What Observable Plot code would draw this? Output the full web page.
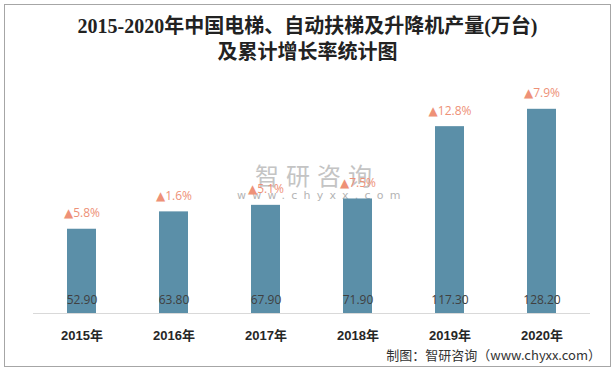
<!DOCTYPE html>
<html><head><meta charset="utf-8">
<script src="https://cdn.jsdelivr.net/npm/d3@7"></script>
<script src="https://cdn.jsdelivr.net/npm/@observablehq/plot@0.6"></script>
<style>
body{margin:0;background:#fff;}
#wrap{position:relative;width:615px;height:370px;overflow:hidden;background:#fff;}
#frame{position:absolute;left:4px;top:4px;width:605px;height:361px;border:1px solid #a6a6a6;}
#title{position:absolute;left:0;top:13px;width:615px;text-align:center;font-family:"Liberation Serif","Noto Sans CJK SC",serif;font-weight:bold;font-size:20px;line-height:26px;color:#222;}
#wm{position:absolute;left:237px;top:160px;color:#c4c4c4;font-family:"Noto Sans CJK SC",sans-serif;}
#wm .big{font-size:24px;letter-spacing:7px;line-height:30px;padding-left:18px;}
#wm .small{font-size:11px;letter-spacing:6.2px;line-height:12px;color:#b4b4b4;font-family:"DejaVu Sans",sans-serif;}
#chart{position:absolute;left:0;top:60px;}
#caption{position:absolute;right:14px;top:346px;font-family:"Noto Sans CJK SC",sans-serif;font-size:13px;line-height:18px;color:#333;}
</style>
</head><body>
<div id="wrap">
  <div id="frame"></div>
  <div id="title">2015-2020年中国电梯、自动扶梯及升降机产量(万台)<br>及累计增长率统计图</div>
  <div id="wm"><div class="big">智研咨询</div><div class="small">www.chyxx.com</div></div>
  <div id="chart"></div>
  <div id="caption">制图：智研咨询（www.chyxx.com）</div>
</div>
<script>
const years = ["2015年","2016年","2017年","2018年","2019年","2020年"];
const output = [52.9, 63.8, 67.9, 71.9, 117.3, 128.2];
const growth = [5.8, 1.6, 5.1, 7.5, 12.8, 7.9];

const data = years.map((y, i) => ({year: y, value: output[i], growth: growth[i]}));

const chart = Plot.plot({
  width: 615,
  height: 290,
  marginLeft: 33,
  marginRight: 25,
  marginTop: 30,
  marginBottom: 37,
  style: {background: "transparent", overflow: "visible"},
  x: {domain: years, paddingInner: 0.69, paddingOuter: 0.345, axis: null},
  y: {domain: [0, 140], axis: null},
  marks: [
    Plot.barY(data, {x: "year", y: "value", fill: "#5B8FA8"}),
    Plot.ruleY([0], {stroke: "#d9d9d9", strokeWidth: 1}),
    Plot.text(data, {x: "year", y: 0, text: d => d.value.toFixed(2), dy: -13, fill: "#404040", fontSize: 12, fontFamily: "Open Sans, DejaVu Sans, sans-serif"}),
    Plot.text(data, {x: "year", y: "value", text: d => "▲" + d.growth + "%", dy: -16, fill: "#EE9177", fontSize: 12, fontFamily: "Open Sans, DejaVu Sans, sans-serif"}),
    Plot.text(data, {x: "year", y: 0, text: "year", dy: 22, fill: "#262626", fontSize: 13, fontWeight: "bold", fontFamily: "Liberation Sans, Noto Sans CJK SC, sans-serif"})
  ]
});
document.getElementById("chart").appendChild(chart);
</script>
</body></html>
